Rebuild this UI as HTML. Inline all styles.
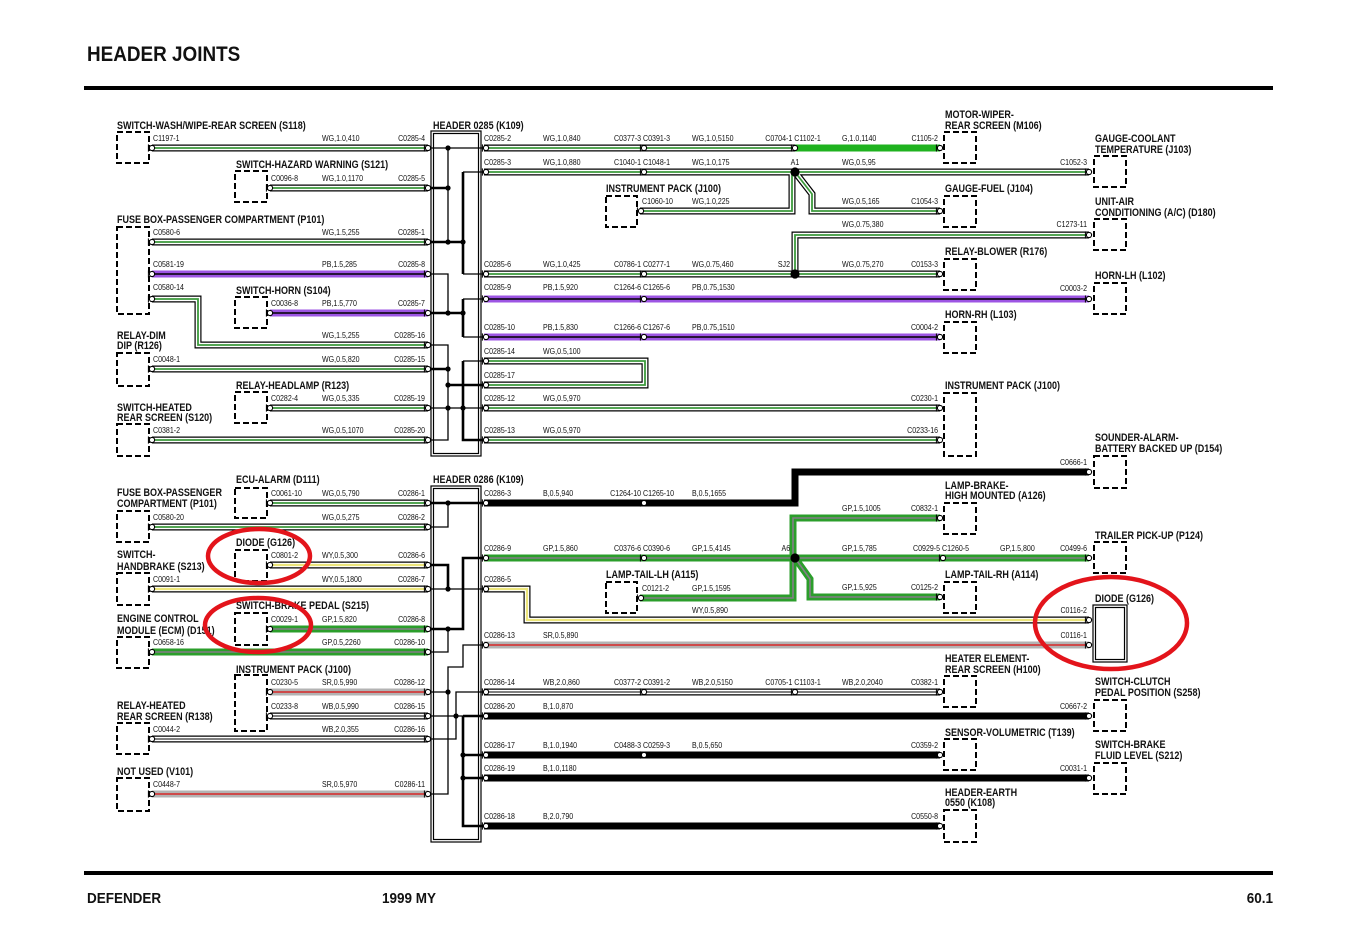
<!DOCTYPE html>
<html><head><meta charset="utf-8"><style>
html,body{margin:0;padding:0;background:#fff}
svg{display:block}
svg text{font-family:"Liberation Sans",Arial,sans-serif;transform-box:fill-box;transform:scaleX(.82);transform-origin:0 50%;fill:#111}
.L{font-size:11px;font-weight:bold}
.w{font-size:8.6px}
.e{text-anchor:end;transform-origin:100% 50%}
.m{text-anchor:middle;transform-origin:50% 50%}
.T{font-size:21px;font-weight:bold;transform:scaleX(.9)!important}
.F{font-size:15px;font-weight:bold;transform:scaleX(.9)!important}
</style></head><body>
<svg width="1360" height="944" viewBox="0 0 1360 944" xmlns="http://www.w3.org/2000/svg">
<defs>
<g id="c"><circle r="2.6" fill="#fff" stroke="#000" stroke-width="1.1"/><path d="M-3.6,-3.6V3.6" stroke="#000" stroke-width="1" fill="none"/></g>
<!-- WG -->
<path id="w1" d="M152,148H428"/>
<path id="w2" d="M270,188H428"/>
<path id="w3" d="M152,242H428"/>
<path id="w5" d="M152,299H198V345H428"/>
<path id="w7" d="M152,369H428"/>
<path id="w8" d="M270,408H428"/>
<path id="w9" d="M152,440H428"/>
<path id="r1a" d="M484,148H795"/>
<path id="r2" d="M484,172H1089"/>
<path id="r2b" d="M792,172V211H640"/>
<path id="r2c" d="M795,172L812,194V211H940"/>
<path id="r3" d="M484,274H940"/>
<path id="r3b" d="M795,274V235H1089"/>
<path id="r6" d="M484,361H645V385H484"/>
<path id="r7" d="M484,408H940"/>
<path id="r8" d="M484,440H940"/>
<path id="l1" d="M270,503H428"/>
<path id="l2" d="M152,527H428"/>
<!-- WY -->
<path id="l3" d="M270,565H428"/>
<path id="l4" d="M152,589H428"/>
<path id="b3" d="M484,589H527V620H1089"/>
<!-- WB -->
<path id="l8" d="M270,716H428"/>
<path id="l9" d="M152,739H428"/>
<path id="b5" d="M484,692H940"/>
<!-- PB -->
<path id="w4" d="M152,274H428"/>
<path id="w6" d="M270,313H428"/>
<path id="r4" d="M484,299H1089"/>
<path id="r5" d="M484,337H940"/>
<!-- GP -->
<path id="l5" d="M270,629H428"/>
<path id="l6" d="M152,652H428"/>
<path id="b2" d="M484,558H1089"/>
<path id="b2a" d="M793,558V518H940"/>
<path id="b2b" d="M795,558L810,579V597H940"/>
<path id="b2c" d="M793,558V598H640"/>
<!-- SR -->
<path id="l7" d="M270,692H428"/>
<path id="l10" d="M152,794H428"/>
<path id="b4" d="M484,645H1089"/>
</defs>

<!-- title & rules -->
<text x="87" y="61" class="T">HEADER JOINTS</text>
<rect x="84" y="86" width="1189" height="4" fill="#000"/>
<rect x="84" y="871" width="1189" height="4" fill="#000"/>
<text x="87" y="903" class="F">DEFENDER</text>
<text x="382" y="903" class="F">1999 MY</text>
<text x="1273" y="903" class="F e">60.1</text>

<!-- header boxes -->
<g fill="none" stroke="#000" stroke-width="1.2">
<rect x="431" y="131" width="50" height="325"/>
<rect x="433.5" y="133.5" width="45" height="320"/>
<rect x="431" y="486" width="50" height="356"/>
<rect x="433.5" y="488.5" width="45" height="351"/>
<rect x="1093" y="605" width="34" height="57"/>
<rect x="1095.5" y="607.5" width="29" height="52"/>
</g>

<!-- component boxes -->
<g fill="none" stroke="#000" stroke-width="2" stroke-dasharray="6 3">
<rect x="117" y="132" width="32" height="31"/>
<rect x="117" y="227" width="32" height="87"/>
<rect x="117" y="353" width="32" height="33"/>
<rect x="117" y="424" width="32" height="32"/>
<rect x="117" y="511" width="32" height="31"/>
<rect x="117" y="573" width="32" height="32"/>
<rect x="117" y="637" width="32" height="31"/>
<rect x="117" y="723" width="32" height="31"/>
<rect x="117" y="778" width="32" height="33"/>
<rect x="235" y="171" width="32" height="31"/>
<rect x="235" y="297" width="32" height="31"/>
<rect x="235" y="392" width="32" height="31"/>
<rect x="235" y="488" width="32" height="30"/>
<rect x="235" y="550" width="32" height="31"/>
<rect x="235" y="613" width="32" height="32"/>
<rect x="235" y="675" width="32" height="56"/>
<rect x="606" y="196" width="31" height="31"/>
<rect x="606" y="582" width="31" height="31"/>
<rect x="944" y="132" width="32" height="31"/>
<rect x="944" y="196" width="32" height="31"/>
<rect x="944" y="259" width="32" height="31"/>
<rect x="944" y="322" width="32" height="31"/>
<rect x="944" y="393" width="32" height="63"/>
<rect x="944" y="503" width="32" height="31"/>
<rect x="944" y="582" width="32" height="31"/>
<rect x="944" y="676" width="32" height="31"/>
<rect x="944" y="739" width="32" height="31"/>
<rect x="944" y="810" width="32" height="32"/>
<rect x="1094" y="156" width="32" height="31"/>
<rect x="1094" y="219" width="32" height="31"/>
<rect x="1094" y="283" width="32" height="31"/>
<rect x="1094" y="456" width="32" height="32"/>
<rect x="1094" y="542" width="32" height="31"/>
<rect x="1094" y="700" width="32" height="31"/>
<rect x="1094" y="763" width="32" height="31"/>
</g>

<!-- wires -->
<g fill="none" stroke-linejoin="miter">
<g stroke="#000" stroke-width="7">
<use href="#w1"/><use href="#w2"/><use href="#w3"/><use href="#w5"/><use href="#w7"/><use href="#w8"/><use href="#w9"/>
<use href="#r1a"/><use href="#r2"/><use href="#r2b"/><use href="#r2c"/><use href="#r3"/><use href="#r3b"/><use href="#r6"/><use href="#r7"/><use href="#r8"/>
<use href="#l1"/><use href="#l2"/><use href="#l3"/><use href="#l4"/><use href="#b3"/><use href="#l8"/><use href="#l9"/><use href="#b5"/>
</g>
<g stroke="#fff" stroke-width="4.6">
<use href="#w1"/><use href="#w2"/><use href="#w3"/><use href="#w5"/><use href="#w7"/><use href="#w8"/><use href="#w9"/>
<use href="#r1a"/><use href="#r2"/><use href="#r2b"/><use href="#r2c"/><use href="#r3"/><use href="#r3b"/><use href="#r6"/><use href="#r7"/><use href="#r8"/>
<use href="#l1"/><use href="#l2"/><use href="#l3"/><use href="#l4"/><use href="#b3"/><use href="#l8"/><use href="#l9"/><use href="#b5"/>
</g>
<g stroke="#3c9a3c" stroke-width="1.8">
<use href="#w1"/><use href="#w2"/><use href="#w3"/><use href="#w5"/><use href="#w7"/><use href="#w8"/><use href="#w9"/>
<use href="#r1a"/><use href="#r2"/><use href="#r2b"/><use href="#r2c"/><use href="#r3"/><use href="#r3b"/><use href="#r6"/><use href="#r7"/><use href="#r8"/>
<use href="#l1"/><use href="#l2"/>
</g>
<g stroke="#ece57a" stroke-width="2.2"><use href="#l3"/><use href="#l4"/><use href="#b3"/></g>
<g stroke="#000" stroke-width="1"><use href="#l8"/><use href="#l9"/><use href="#b5"/></g>
<g stroke="#9d55e3" stroke-width="7"><use href="#w4"/><use href="#w6"/><use href="#r4"/><use href="#r5"/></g>
<g stroke="#000" stroke-width="1.6"><use href="#w4"/><use href="#w6"/><use href="#r4"/><use href="#r5"/></g>
<path d="M795,148H940" stroke="#1fb21f" stroke-width="7"/>
<g stroke="#2b9e2b" stroke-width="7"><use href="#l5"/><use href="#l6"/><use href="#b2"/><use href="#b2a"/><use href="#b2b"/><use href="#b2c"/></g>
<g stroke="#857d88" stroke-width="1.6"><use href="#l5"/><use href="#l6"/><use href="#b2"/><use href="#b2a"/><use href="#b2b"/><use href="#b2c"/></g>
<g stroke="#b3b3b3" stroke-width="7"><use href="#l7"/><use href="#l10"/><use href="#b4"/></g>
<g stroke="#d82828" stroke-width="1.6"><use href="#l7"/><use href="#l10"/><use href="#b4"/></g>
<g stroke="#000" stroke-width="7">
<path d="M484,503H795V472H1089"/>
<path d="M484,716H1089"/>
<path d="M484,755H940"/>
<path d="M484,778H1089"/>
<path d="M484,826H940"/>
</g>
</g>

<!-- internal header connections -->
<g fill="none" stroke="#000">
<g stroke-width="1.3">
<path d="M428,148H484M448,148V242"/>
<path d="M463,172H484M463,274H484"/>
<path d="M428,274H448V313M463,299H484M463,337H484"/>
<path d="M428,345H448V440H428M428,408H484M463,361H484"/>
<path d="M448,503V527H428M428,589H484M448,629V652H428"/>
<path d="M484,645H463V667H448V794H428M428,692H448"/>
<path d="M484,692H456V739H428M428,716H463"/>
</g>
<g stroke-width="2.6">
<path d="M428,188H448M428,242H463M463,172V274"/>
<path d="M428,313H463M463,299V337"/>
<path d="M428,369H448M448,385H484M463,361V440H484"/>
<path d="M428,503H484M428,565H448V589"/>
<path d="M428,629H463V558H484"/>
<path d="M463,716V826H484M463,716H484M463,755H484M463,778H484"/>
</g>
</g>
<g fill="#000">
<circle cx="448" cy="148" r="2.6"/><circle cx="448" cy="188" r="2.6"/><circle cx="448" cy="242" r="2.6"/><circle cx="463" cy="242" r="2.6"/>
<circle cx="448" cy="313" r="2.6"/><circle cx="463" cy="313" r="2.6"/><circle cx="448" cy="369" r="2.6"/><circle cx="448" cy="385" r="2.6"/>
<circle cx="448" cy="408" r="2.6"/><circle cx="463" cy="408" r="2.6"/>
<circle cx="448" cy="503" r="2.6"/><circle cx="448" cy="589" r="2.6"/><circle cx="448" cy="629" r="2.6"/><circle cx="448" cy="692" r="2.6"/>
<circle cx="456" cy="716" r="2.6"/><circle cx="463" cy="755" r="2.6"/><circle cx="463" cy="778" r="2.6"/>
<circle cx="795" cy="172" r="4.6"/><circle cx="795" cy="274" r="4.6"/><circle cx="795" cy="558" r="4.6"/>
</g>

<!-- connectors -->
<g>
<use href="#c" x="152" y="148"/><use href="#c" x="270" y="188"/><use href="#c" x="152" y="242"/><use href="#c" x="152" y="274"/><use href="#c" x="152" y="299"/><use href="#c" x="270" y="313"/><use href="#c" x="152" y="369"/><use href="#c" x="270" y="408"/><use href="#c" x="152" y="440"/>
<use href="#c" x="428" y="148"/><use href="#c" x="428" y="188"/><use href="#c" x="428" y="242"/><use href="#c" x="428" y="274"/><use href="#c" x="428" y="313"/><use href="#c" x="428" y="345"/><use href="#c" x="428" y="369"/><use href="#c" x="428" y="408"/><use href="#c" x="428" y="440"/>
<use href="#c" x="486" y="148"/><use href="#c" x="486" y="172"/><use href="#c" x="486" y="274"/><use href="#c" x="486" y="299"/><use href="#c" x="486" y="337"/><use href="#c" x="486" y="361"/><use href="#c" x="486" y="385"/><use href="#c" x="486" y="408"/><use href="#c" x="486" y="440"/>
<use href="#c" x="644" y="148"/><use href="#c" x="644" y="172"/><use href="#c" x="644" y="274"/><use href="#c" x="644" y="299"/><use href="#c" x="644" y="337"/><use href="#c" x="795" y="148"/>
<use href="#c" x="940" y="148"/><use href="#c" x="940" y="211"/><use href="#c" x="940" y="274"/><use href="#c" x="940" y="337"/><use href="#c" x="940" y="408"/><use href="#c" x="940" y="440"/>
<use href="#c" x="1089" y="172"/><use href="#c" x="1089" y="235"/><use href="#c" x="1089" y="299"/><use href="#c" x="641" y="211"/>
<use href="#c" x="270" y="503"/><use href="#c" x="270" y="565"/><use href="#c" x="270" y="629"/><use href="#c" x="270" y="692"/><use href="#c" x="270" y="716"/>
<use href="#c" x="152" y="527"/><use href="#c" x="152" y="589"/><use href="#c" x="152" y="652"/><use href="#c" x="152" y="739"/><use href="#c" x="152" y="794"/>
<use href="#c" x="428" y="503"/><use href="#c" x="428" y="527"/><use href="#c" x="428" y="565"/><use href="#c" x="428" y="589"/><use href="#c" x="428" y="629"/><use href="#c" x="428" y="652"/><use href="#c" x="428" y="692"/><use href="#c" x="428" y="716"/><use href="#c" x="428" y="739"/><use href="#c" x="428" y="794"/>
<use href="#c" x="486" y="503"/><use href="#c" x="486" y="558"/><use href="#c" x="486" y="589"/><use href="#c" x="486" y="645"/><use href="#c" x="486" y="692"/><use href="#c" x="486" y="716"/><use href="#c" x="486" y="755"/><use href="#c" x="486" y="778"/><use href="#c" x="486" y="826"/>
<use href="#c" x="644" y="503"/><use href="#c" x="644" y="558"/><use href="#c" x="644" y="692"/><use href="#c" x="644" y="755"/><use href="#c" x="795" y="692"/><use href="#c" x="943" y="558"/>
<use href="#c" x="940" y="518"/><use href="#c" x="940" y="597"/><use href="#c" x="940" y="692"/><use href="#c" x="940" y="755"/><use href="#c" x="940" y="826"/>
<use href="#c" x="1089" y="472"/><use href="#c" x="1089" y="558"/><use href="#c" x="1089" y="620"/><use href="#c" x="1089" y="645"/><use href="#c" x="1089" y="716"/><use href="#c" x="1089" y="778"/><use href="#c" x="641" y="598"/>
</g>

<!-- component labels -->
<g>
<text class="L" x="117" y="129">SWITCH-WASH/WIPE-REAR SCREEN (S118)</text>
<text class="L" x="236" y="168">SWITCH-HAZARD WARNING (S121)</text>
<text class="L" x="117" y="223">FUSE BOX-PASSENGER COMPARTMENT (P101)</text>
<text class="L" x="236" y="294">SWITCH-HORN (S104)</text>
<text class="L" x="117" y="339">RELAY-DIM</text>
<text class="L" x="117" y="349">DIP (R126)</text>
<text class="L" x="236" y="389">RELAY-HEADLAMP (R123)</text>
<text class="L" x="117" y="411">SWITCH-HEATED</text>
<text class="L" x="117" y="421">REAR SCREEN (S120)</text>
<text class="L" x="433" y="129">HEADER 0285 (K109)</text>
<text class="L" x="433" y="483">HEADER 0286 (K109)</text>
<text class="L" x="236" y="483">ECU-ALARM (D111)</text>
<text class="L" x="117" y="496">FUSE BOX-PASSENGER</text>
<text class="L" x="117" y="507">COMPARTMENT (P101)</text>
<text class="L" x="236" y="546">DIODE (G126)</text>
<text class="L" x="117" y="558">SWITCH-</text>
<text class="L" x="117" y="570">HANDBRAKE (S213)</text>
<text class="L" x="236" y="609">SWITCH-BRAKE PEDAL (S215)</text>
<text class="L" x="117" y="622">ENGINE CONTROL</text>
<text class="L" x="117" y="634">MODULE (ECM) (D151)</text>
<text class="L" x="236" y="673">INSTRUMENT PACK (J100)</text>
<text class="L" x="117" y="709">RELAY-HEATED</text>
<text class="L" x="117" y="720">REAR SCREEN (R138)</text>
<text class="L" x="117" y="775">NOT USED (V101)</text>
<text class="L" x="606" y="192">INSTRUMENT PACK (J100)</text>
<text class="L" x="606" y="578">LAMP-TAIL-LH (A115)</text>
<text class="L" x="945" y="118">MOTOR-WIPER-</text>
<text class="L" x="945" y="129">REAR SCREEN (M106)</text>
<text class="L" x="945" y="192">GAUGE-FUEL (J104)</text>
<text class="L" x="945" y="255">RELAY-BLOWER (R176)</text>
<text class="L" x="945" y="318">HORN-RH (L103)</text>
<text class="L" x="945" y="389">INSTRUMENT PACK (J100)</text>
<text class="L" x="945" y="489">LAMP-BRAKE-</text>
<text class="L" x="945" y="499">HIGH MOUNTED (A126)</text>
<text class="L" x="945" y="578">LAMP-TAIL-RH (A114)</text>
<text class="L" x="945" y="662">HEATER ELEMENT-</text>
<text class="L" x="945" y="673">REAR SCREEN (H100)</text>
<text class="L" x="945" y="736">SENSOR-VOLUMETRIC (T139)</text>
<text class="L" x="945" y="796">HEADER-EARTH</text>
<text class="L" x="945" y="806">0550 (K108)</text>
<text class="L" x="1095" y="142">GAUGE-COOLANT</text>
<text class="L" x="1095" y="153">TEMPERATURE (J103)</text>
<text class="L" x="1095" y="205">UNIT-AIR</text>
<text class="L" x="1095" y="216">CONDITIONING (A/C) (D180)</text>
<text class="L" x="1095" y="279">HORN-LH (L102)</text>
<text class="L" x="1095" y="441">SOUNDER-ALARM-</text>
<text class="L" x="1095" y="452">BATTERY BACKED UP (D154)</text>
<text class="L" x="1095" y="539">TRAILER PICK-UP (P124)</text>
<text class="L" x="1095" y="602">DIODE (G126)</text>
<text class="L" x="1095" y="685">SWITCH-CLUTCH</text>
<text class="L" x="1095" y="696">PEDAL POSITION (S258)</text>
<text class="L" x="1095" y="748">SWITCH-BRAKE</text>
<text class="L" x="1095" y="759">FLUID LEVEL (S212)</text>
</g>

<!-- wire labels: top left -->
<g>
<text class="w" x="153" y="141">C1197-1</text><text class="w" x="322" y="141">WG,1.0,410</text><text class="w e" x="425" y="141">C0285-4</text>
<text class="w" x="271" y="181">C0096-8</text><text class="w" x="322" y="181">WG,1.0,1170</text><text class="w e" x="425" y="181">C0285-5</text>
<text class="w" x="153" y="235">C0580-6</text><text class="w" x="322" y="235">WG,1.5,255</text><text class="w e" x="425" y="235">C0285-1</text>
<text class="w" x="153" y="267">C0581-19</text><text class="w" x="322" y="267">PB,1.5,285</text><text class="w e" x="425" y="267">C0285-8</text>
<text class="w" x="153" y="290">C0580-14</text>
<text class="w" x="271" y="306">C0036-8</text><text class="w" x="322" y="306">PB,1.5,770</text><text class="w e" x="425" y="306">C0285-7</text>
<text class="w" x="322" y="338">WG,1.5,255</text><text class="w e" x="425" y="338">C0285-16</text>
<text class="w" x="153" y="362">C0048-1</text><text class="w" x="322" y="362">WG,0.5,820</text><text class="w e" x="425" y="362">C0285-15</text>
<text class="w" x="271" y="401">C0282-4</text><text class="w" x="322" y="401">WG,0.5,335</text><text class="w e" x="425" y="401">C0285-19</text>
<text class="w" x="153" y="433">C0381-2</text><text class="w" x="322" y="433">WG,0.5,1070</text><text class="w e" x="425" y="433">C0285-20</text>
</g>
<!-- wire labels: top right -->
<g>
<text class="w" x="484" y="141">C0285-2</text><text class="w" x="543" y="141">WG,1.0,840</text><text class="w m" x="642" y="141">C0377-3 C0391-3</text><text class="w" x="692" y="141">WG,1.0,5150</text><text class="w m" x="793" y="141">C0704-1 C1102-1</text><text class="w" x="842" y="141">G,1.0,1140</text><text class="w e" x="938" y="141">C1105-2</text>
<text class="w" x="484" y="165">C0285-3</text><text class="w" x="543" y="165">WG,1.0,880</text><text class="w m" x="642" y="165">C1040-1 C1048-1</text><text class="w" x="692" y="165">WG,1.0,175</text><text class="w m" x="795" y="165">A1</text><text class="w" x="842" y="165">WG,0.5,95</text><text class="w e" x="1087" y="165">C1052-3</text>
<text class="w" x="642" y="204">C1060-10</text><text class="w" x="692" y="204">WG,1.0,225</text><text class="w" x="842" y="204">WG,0.5,165</text><text class="w e" x="938" y="204">C1054-3</text>
<text class="w" x="842" y="227">WG,0.75,380</text><text class="w e" x="1087" y="227">C1273-11</text>
<text class="w" x="484" y="267">C0285-6</text><text class="w" x="543" y="267">WG,1.0,425</text><text class="w m" x="642" y="267">C0786-1 C0277-1</text><text class="w" x="692" y="267">WG,0.75,460</text><text class="w e" x="790" y="267">SJ2</text><text class="w" x="842" y="267">WG,0.75,270</text><text class="w e" x="938" y="267">C0153-3</text>
<text class="w" x="484" y="290">C0285-9</text><text class="w" x="543" y="290">PB,1.5,920</text><text class="w m" x="642" y="290">C1264-6 C1265-6</text><text class="w" x="692" y="290">PB,0.75,1530</text><text class="w e" x="1087" y="291">C0003-2</text>
<text class="w" x="484" y="330">C0285-10</text><text class="w" x="543" y="330">PB,1.5,830</text><text class="w m" x="642" y="330">C1266-6 C1267-6</text><text class="w" x="692" y="330">PB,0.75,1510</text><text class="w e" x="938" y="330">C0004-2</text>
<text class="w" x="484" y="354">C0285-14</text><text class="w" x="543" y="354">WG,0.5,100</text>
<text class="w" x="484" y="378">C0285-17</text>
<text class="w" x="484" y="401">C0285-12</text><text class="w" x="543" y="401">WG,0.5,970</text><text class="w e" x="938" y="401">C0230-1</text>
<text class="w" x="484" y="433">C0285-13</text><text class="w" x="543" y="433">WG,0.5,970</text><text class="w e" x="938" y="433">C0233-16</text>
</g>
<!-- wire labels: bottom left -->
<g>
<text class="w" x="271" y="496">C0061-10</text><text class="w" x="322" y="496">WG,0.5,790</text><text class="w e" x="425" y="496">C0286-1</text>
<text class="w" x="153" y="520">C0580-20</text><text class="w" x="322" y="520">WG,0.5,275</text><text class="w e" x="425" y="520">C0286-2</text>
<text class="w" x="271" y="558">C0801-2</text><text class="w" x="322" y="558">WY,0.5,300</text><text class="w e" x="425" y="558">C0286-6</text>
<text class="w" x="153" y="582">C0091-1</text><text class="w" x="322" y="582">WY,0.5,1800</text><text class="w e" x="425" y="582">C0286-7</text>
<text class="w" x="271" y="622">C0029-1</text><text class="w" x="322" y="622">GP,1.5,820</text><text class="w e" x="425" y="622">C0286-8</text>
<text class="w" x="153" y="645">C0658-16</text><text class="w" x="322" y="645">GP,0.5,2260</text><text class="w e" x="425" y="645">C0286-10</text>
<text class="w" x="271" y="685">C0230-5</text><text class="w" x="322" y="685">SR,0.5,990</text><text class="w e" x="425" y="685">C0286-12</text>
<text class="w" x="271" y="709">C0233-8</text><text class="w" x="322" y="709">WB,0.5,990</text><text class="w e" x="425" y="709">C0286-15</text>
<text class="w" x="153" y="732">C0044-2</text><text class="w" x="322" y="732">WB,2.0,355</text><text class="w e" x="425" y="732">C0286-16</text>
<text class="w" x="153" y="787">C0448-7</text><text class="w" x="322" y="787">SR,0.5,970</text><text class="w e" x="425" y="787">C0286-11</text>
</g>
<!-- wire labels: bottom right -->
<g>
<text class="w e" x="1087" y="465">C0666-1</text>
<text class="w" x="484" y="496">C0286-3</text><text class="w" x="543" y="496">B,0.5,940</text><text class="w m" x="642" y="496">C1264-10 C1265-10</text><text class="w" x="692" y="496">B,0.5,1655</text>
<text class="w" x="842" y="511">GP,1.5,1005</text><text class="w e" x="938" y="511">C0832-1</text>
<text class="w" x="484" y="551">C0286-9</text><text class="w" x="543" y="551">GP,1.5,860</text><text class="w m" x="642" y="551">C0376-6 C0390-6</text><text class="w" x="692" y="551">GP,1.5,4145</text><text class="w e" x="790" y="551">A6</text><text class="w" x="842" y="551">GP,1.5,785</text><text class="w m" x="941" y="551">C0929-5 C1260-5</text><text class="w" x="1000" y="551">GP,1.5,800</text><text class="w e" x="1087" y="551">C0499-6</text>
<text class="w" x="484" y="582">C0286-5</text>
<text class="w" x="642" y="591">C0121-2</text><text class="w" x="692" y="591">GP,1.5,1595</text><text class="w" x="842" y="590">GP,1.5,925</text><text class="w e" x="938" y="590">C0125-2</text>
<text class="w" x="692" y="613">WY,0.5,890</text><text class="w e" x="1087" y="613">C0116-2</text>
<text class="w" x="484" y="638">C0286-13</text><text class="w" x="543" y="638">SR,0.5,890</text><text class="w e" x="1087" y="638">C0116-1</text>
<text class="w" x="484" y="685">C0286-14</text><text class="w" x="543" y="685">WB,2.0,860</text><text class="w m" x="642" y="685">C0377-2 C0391-2</text><text class="w" x="692" y="685">WB,2.0,5150</text><text class="w m" x="793" y="685">C0705-1 C1103-1</text><text class="w" x="842" y="685">WB,2.0,2040</text><text class="w e" x="938" y="685">C0382-1</text>
<text class="w" x="484" y="709">C0286-20</text><text class="w" x="543" y="709">B,1.0,870</text><text class="w e" x="1087" y="709">C0667-2</text>
<text class="w" x="484" y="748">C0286-17</text><text class="w" x="543" y="748">B,1.0,1940</text><text class="w m" x="642" y="748">C0488-3 C0259-3</text><text class="w" x="692" y="748">B,0.5,650</text><text class="w e" x="938" y="748">C0359-2</text>
<text class="w" x="484" y="771">C0286-19</text><text class="w" x="543" y="771">B,1.0,1180</text><text class="w e" x="1087" y="771">C0031-1</text>
<text class="w" x="484" y="819">C0286-18</text><text class="w" x="543" y="819">B,2.0,790</text><text class="w e" x="938" y="819">C0550-8</text>
</g>

<!-- red annotation ellipses -->
<g fill="none" stroke="#e3141b" stroke-width="4.5">
<ellipse cx="259" cy="556" rx="51" ry="27"/>
<ellipse cx="258" cy="625" rx="53" ry="27"/>
<ellipse cx="1111" cy="623" rx="76" ry="46"/>
</g>
</svg>
</body></html>
